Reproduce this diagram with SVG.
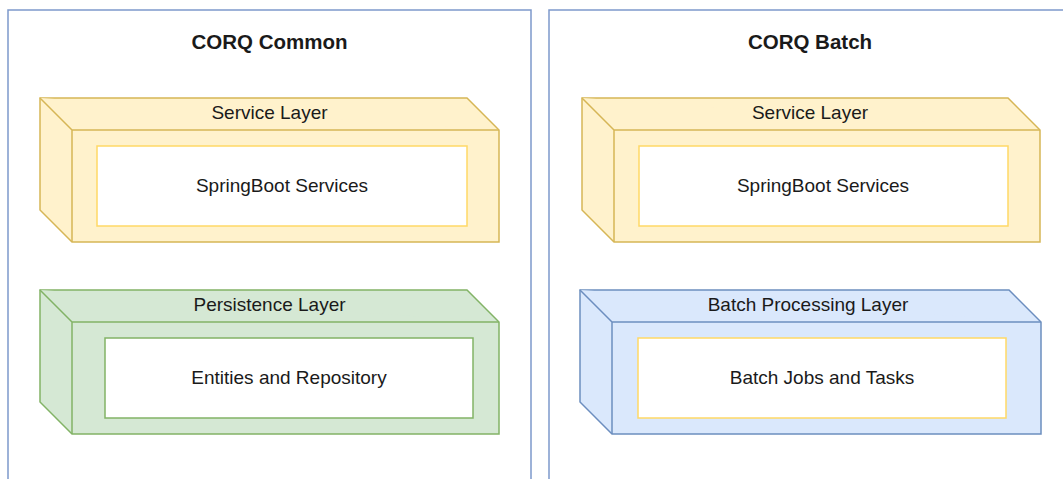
<svg xmlns="http://www.w3.org/2000/svg" width="1063" height="479" viewBox="0 0 1063 479">
  <style>
    .container { fill: #ffffff; stroke: #7d99cb; stroke-width: 1.5; }
    .cube-y { fill: #fff2cc; stroke: #d6b656; stroke-width: 1.5; stroke-linejoin: miter; }
    .cube-g { fill: #d5e8d4; stroke: #82b366; stroke-width: 1.5; }
    .cube-b { fill: #dae8fc; stroke: #6c8ebf; stroke-width: 1.5; }
    .inner-y { fill: #ffffff; stroke: #ffd966; stroke-width: 1.5; }
    .inner-g { fill: #ffffff; stroke: #82b366; stroke-width: 1.5; }
    .title { font-family: "Liberation Sans", Arial, sans-serif; font-size: 20.5px; font-weight: bold; fill: #1a1a1a; text-anchor: middle; }
    .label { font-family: "Liberation Sans", Arial, sans-serif; font-size: 19px; fill: #1a1a1a; text-anchor: middle; }
  </style>
  <rect width="1063" height="479" fill="#ffffff"/>

  <!-- CORQ Common container -->
  <g id="corq-common">
    <rect class="container" x="8" y="10" width="523" height="490"/>
    <text class="title" x="269.5" y="49">CORQ Common</text>
  </g>

  <!-- CORQ Batch container -->
  <g id="corq-batch">
    <rect class="container" x="549" y="10" width="540" height="490"/>
    <text class="title" x="810" y="49">CORQ Batch</text>
  </g>

  <!-- Common: service layer cube -->
  <g id="common-service-layer">
    <path class="cube-y" d="M40,98 H467 L499,130 V242 H72 L40,210 Z"/>
    <path class="cube-y" fill="none" d="M40,98 L72,130 H499 M72,130 V242"/>
    <text class="label" x="269.5" y="119">Service Layer</text>
  </g>
  <g id="common-springboot-services">
    <rect class="inner-y" x="97" y="146" width="370" height="80"/>
    <text class="label" x="282" y="192">SpringBoot Services</text>
  </g>

  <!-- Common: persistence layer cube -->
  <g id="common-persistence-layer">
    <path class="cube-g" d="M40,290 H467 L499,322 V434 H72 L40,402 Z"/>
    <path class="cube-g" fill="none" d="M40,290 L72,322 H499 M72,322 V434"/>
    <text class="label" x="269.5" y="311">Persistence Layer</text>
  </g>
  <g id="common-entities-repository">
    <rect class="inner-g" x="105" y="338" width="368" height="80"/>
    <text class="label" x="289" y="384">Entities and Repository</text>
  </g>

  <!-- Batch: service layer cube -->
  <g id="batch-service-layer">
    <path class="cube-y" d="M582,98 H1008 L1040,130 V242 H614 L582,210 Z"/>
    <path class="cube-y" fill="none" d="M582,98 L614,130 H1040 M614,130 V242"/>
    <text class="label" x="810" y="119">Service Layer</text>
  </g>
  <g id="batch-springboot-services">
    <rect class="inner-y" x="639" y="146" width="369" height="80"/>
    <text class="label" x="823" y="192">SpringBoot Services</text>
  </g>

  <!-- Batch: batch processing layer cube -->
  <g id="batch-processing-layer">
    <path class="cube-b" d="M580,290 H1009 L1041,322 V434 H612 L580,402 Z"/>
    <path class="cube-b" fill="none" d="M580,290 L612,322 H1041 M612,322 V434"/>
    <text class="label" x="808" y="311">Batch Processing Layer</text>
  </g>
  <g id="batch-jobs-tasks">
    <rect class="inner-y" x="638" y="338" width="368" height="80"/>
    <text class="label" x="822" y="384">Batch Jobs and Tasks</text>
  </g>

  <!-- no connectors in this diagram -->
  <g id="connectors"/>
</svg>
